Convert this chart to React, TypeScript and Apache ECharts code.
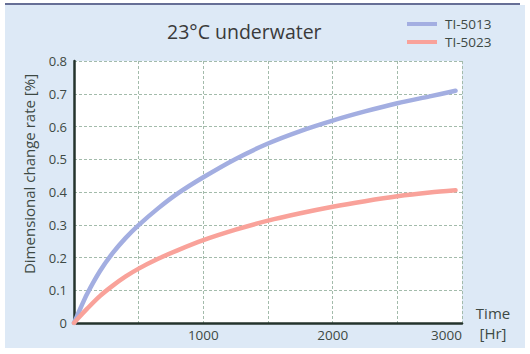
import React, { useEffect, useRef } from "react";
import * as echarts from "echarts";

const timeHr = [0, 50, 100, 200, 300, 400, 500, 650, 800, 1000, 1250, 1500, 1750, 2000, 2250, 2500, 2750, 2950];
const ti5013 = [0, 0.045, 0.088, 0.158, 0.214, 0.26, 0.299, 0.35, 0.395, 0.445, 0.501, 0.548, 0.586, 0.618, 0.646, 0.671, 0.692, 0.709];
const ti5023 = [0, 0.022, 0.043, 0.082, 0.114, 0.142, 0.166, 0.196, 0.222, 0.253, 0.285, 0.3125, 0.335, 0.355, 0.372, 0.387, 0.3985, 0.4055];
const seriesNames = ["TI-5013", "TI-5023"];
const xLabels = [1000, 2000, 3000];

const FONT = "'Open Sans', 'Noto Sans', sans-serif";
const TEXT = "#3d4944";

export default function App() {
  const ref = useRef<HTMLDivElement>(null);
  useEffect(() => {
    if (!ref.current) return;
    const chart = echarts.init(ref.current, undefined, { renderer: "svg" });
    const pairs = (ys: number[]) => timeHr.map((t, i) => [t, ys[i]]);
    chart.setOption({
      animation: false,
      backgroundColor: "#ffffff",
      textStyle: { fontFamily: FONT },
      graphic: [
        {
          type: "rect",
          z: -10,
          shape: { x: 5, y: 5, width: 520, height: 343 },
          style: { fill: "#dde9f6" },
          silent: true,
        },
        {
          type: "line",
          z: -9,
          shape: { x1: 5, y1: 4, x2: 520, y2: 4 },
          style: { stroke: "#666f96", lineWidth: 2 },
          silent: true,
        },
      ],
      title: {
        text: "23°C underwater",
        left: 167,
        top: 21,
        padding: 0,
        textStyle: { fontFamily: FONT, fontSize: 19.5, fontWeight: "normal", color: "#3a3a3a" },
      },
      legend: {
        orient: "vertical",
        left: 407,
        top: 17,
        padding: 0,
        itemGap: 4,
        itemWidth: 30,
        itemHeight: 4,
        icon: "rect",
        data: seriesNames,
        textStyle: { fontFamily: FONT, fontSize: 13.5, color: TEXT, lineHeight: 14, padding: [0, 0, 0, 3] },
      },
      grid: {
        left: 74,
        right: 68,
        top: 61,
        bottom: 31,
        show: true,
        backgroundColor: "#ffffff",
        borderWidth: 0,
      },
      xAxis: {
        type: "value",
        min: 0,
        max: 3000,
        interval: 500,
        name: "Time\n[Hr]",
        nameLocation: "end",
        nameGap: 31,
        nameTextStyle: {
          fontFamily: FONT,
          fontSize: 15,
          color: TEXT,
          align: "center",
          verticalAlign: "middle",
          lineHeight: 20,
          padding: [0, 0, 16, 0],
        },
        axisLine: { show: true, lineStyle: { color: "#24332c", width: 2.5 } },
        axisTick: { show: false },
        splitLine: { show: true, lineStyle: { color: "#a3bbab", width: 1, type: [3, 2] } },
        axisLabel: {
          margin: 5,
          fontFamily: FONT,
          fontSize: 13.5,
          color: TEXT,
          alignMaxLabel: "right",
          formatter: (v: number) => (xLabels.includes(v) ? String(v) : ""),
        },
      },
      yAxis: {
        type: "value",
        min: 0,
        max: 0.8,
        interval: 0.1,
        name: "Dimensional change rate [%]",
        nameLocation: "middle",
        nameRotate: 90,
        nameGap: 38,
        nameTextStyle: { fontFamily: FONT, fontSize: 15, color: TEXT, padding: [0, 0, 0, 36] },
        axisLine: { show: true, lineStyle: { color: "#24332c", width: 2.5 } },
        axisTick: { show: false },
        splitLine: { show: true, lineStyle: { color: "#a3bbab", width: 1, type: [3, 2] } },
        axisLabel: {
          margin: 7,
          fontFamily: FONT,
          fontSize: 13,
          color: TEXT,
          formatter: (v: number) => (v === 0 ? "0" : v.toFixed(1)),
        },
      },
      series: [
        {
          name: seriesNames[0],
          type: "line",
          data: pairs(ti5013),
          smooth: 0.3,
          showSymbol: false,
          lineStyle: { color: "#a3aee1", width: 4.5, cap: "round" },
          itemStyle: { color: "#a3aee1" },
          z: 3,
        },
        {
          name: seriesNames[1],
          type: "line",
          data: pairs(ti5023),
          smooth: 0.3,
          showSymbol: false,
          lineStyle: { color: "#f9a29a", width: 4.5, cap: "round" },
          itemStyle: { color: "#f9a29a" },
          z: 3,
        },
      ],
    });
    return () => chart.dispose();
  }, []);
  return (
    <div
      ref={ref}
      style={{ position: "absolute", left: 0, top: 0, width: 530, height: 354 }}
    />
  );
}
